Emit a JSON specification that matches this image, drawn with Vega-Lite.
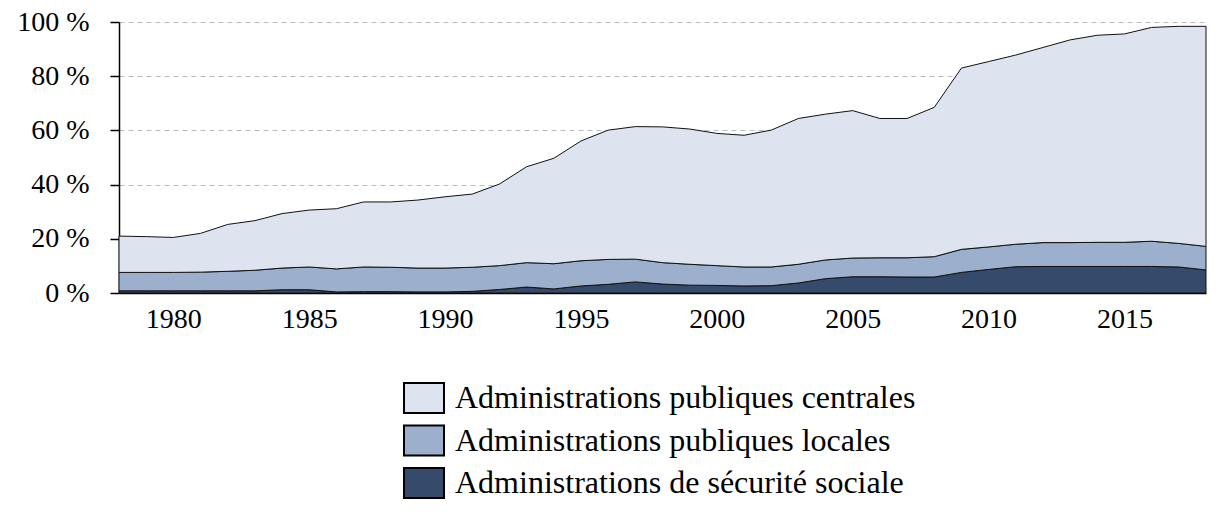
{
  "$schema": "https://vega.github.io/schema/vega-lite/v6.json",
  "width": 1087,
  "height": 271,
  "autosize": {"type": "none"},
  "padding": {"left": 119, "top": 22, "right": 14, "bottom": 228},
  "background": "white",
  "config": {
    "view": {"stroke": null},
    "font": "Liberation Serif"
  },
  "datasets": {
    "d": [
      {"annee":1978,"s":"Administrations de sécurité sociale","rang":1,"v":0.8},
      {"annee":1979,"s":"Administrations de sécurité sociale","rang":1,"v":0.8},
      {"annee":1980,"s":"Administrations de sécurité sociale","rang":1,"v":0.8},
      {"annee":1981,"s":"Administrations de sécurité sociale","rang":1,"v":0.8},
      {"annee":1982,"s":"Administrations de sécurité sociale","rang":1,"v":0.8},
      {"annee":1983,"s":"Administrations de sécurité sociale","rang":1,"v":0.8},
      {"annee":1984,"s":"Administrations de sécurité sociale","rang":1,"v":1.2},
      {"annee":1985,"s":"Administrations de sécurité sociale","rang":1,"v":1.2},
      {"annee":1986,"s":"Administrations de sécurité sociale","rang":1,"v":0.4},
      {"annee":1987,"s":"Administrations de sécurité sociale","rang":1,"v":0.5},
      {"annee":1988,"s":"Administrations de sécurité sociale","rang":1,"v":0.5},
      {"annee":1989,"s":"Administrations de sécurité sociale","rang":1,"v":0.4},
      {"annee":1990,"s":"Administrations de sécurité sociale","rang":1,"v":0.4},
      {"annee":1991,"s":"Administrations de sécurité sociale","rang":1,"v":0.6},
      {"annee":1992,"s":"Administrations de sécurité sociale","rang":1,"v":1.3},
      {"annee":1993,"s":"Administrations de sécurité sociale","rang":1,"v":2.2},
      {"annee":1994,"s":"Administrations de sécurité sociale","rang":1,"v":1.5},
      {"annee":1995,"s":"Administrations de sécurité sociale","rang":1,"v":2.6},
      {"annee":1996,"s":"Administrations de sécurité sociale","rang":1,"v":3.2},
      {"annee":1997,"s":"Administrations de sécurité sociale","rang":1,"v":4.1},
      {"annee":1998,"s":"Administrations de sécurité sociale","rang":1,"v":3.3},
      {"annee":1999,"s":"Administrations de sécurité sociale","rang":1,"v":2.9},
      {"annee":2000,"s":"Administrations de sécurité sociale","rang":1,"v":2.8},
      {"annee":2001,"s":"Administrations de sécurité sociale","rang":1,"v":2.6},
      {"annee":2002,"s":"Administrations de sécurité sociale","rang":1,"v":2.7},
      {"annee":2003,"s":"Administrations de sécurité sociale","rang":1,"v":3.7},
      {"annee":2004,"s":"Administrations de sécurité sociale","rang":1,"v":5.3},
      {"annee":2005,"s":"Administrations de sécurité sociale","rang":1,"v":6.0},
      {"annee":2006,"s":"Administrations de sécurité sociale","rang":1,"v":6.0},
      {"annee":2007,"s":"Administrations de sécurité sociale","rang":1,"v":5.9},
      {"annee":2008,"s":"Administrations de sécurité sociale","rang":1,"v":5.9},
      {"annee":2009,"s":"Administrations de sécurité sociale","rang":1,"v":7.6},
      {"annee":2010,"s":"Administrations de sécurité sociale","rang":1,"v":8.7},
      {"annee":2011,"s":"Administrations de sécurité sociale","rang":1,"v":9.7},
      {"annee":2012,"s":"Administrations de sécurité sociale","rang":1,"v":9.8},
      {"annee":2013,"s":"Administrations de sécurité sociale","rang":1,"v":9.8},
      {"annee":2014,"s":"Administrations de sécurité sociale","rang":1,"v":9.8},
      {"annee":2015,"s":"Administrations de sécurité sociale","rang":1,"v":9.8},
      {"annee":2016,"s":"Administrations de sécurité sociale","rang":1,"v":9.8},
      {"annee":2017,"s":"Administrations de sécurité sociale","rang":1,"v":9.6},
      {"annee":2018,"s":"Administrations de sécurité sociale","rang":1,"v":8.5},
      {"annee":1978,"s":"Administrations publiques locales","rang":2,"v":6.8},
      {"annee":1979,"s":"Administrations publiques locales","rang":2,"v":6.8},
      {"annee":1980,"s":"Administrations publiques locales","rang":2,"v":6.8},
      {"annee":1981,"s":"Administrations publiques locales","rang":2,"v":6.9},
      {"annee":1982,"s":"Administrations publiques locales","rang":2,"v":7.2},
      {"annee":1983,"s":"Administrations publiques locales","rang":2,"v":7.6},
      {"annee":1984,"s":"Administrations publiques locales","rang":2,"v":8.0},
      {"annee":1985,"s":"Administrations publiques locales","rang":2,"v":8.4},
      {"annee":1986,"s":"Administrations publiques locales","rang":2,"v":8.5},
      {"annee":1987,"s":"Administrations publiques locales","rang":2,"v":9.1},
      {"annee":1988,"s":"Administrations publiques locales","rang":2,"v":9.0},
      {"annee":1989,"s":"Administrations publiques locales","rang":2,"v":8.8},
      {"annee":1990,"s":"Administrations publiques locales","rang":2,"v":8.8},
      {"annee":1991,"s":"Administrations publiques locales","rang":2,"v":8.9},
      {"annee":1992,"s":"Administrations publiques locales","rang":2,"v":8.8},
      {"annee":1993,"s":"Administrations publiques locales","rang":2,"v":9.0},
      {"annee":1994,"s":"Administrations publiques locales","rang":2,"v":9.3},
      {"annee":1995,"s":"Administrations publiques locales","rang":2,"v":9.3},
      {"annee":1996,"s":"Administrations publiques locales","rang":2,"v":9.2},
      {"annee":1997,"s":"Administrations publiques locales","rang":2,"v":8.4},
      {"annee":1998,"s":"Administrations publiques locales","rang":2,"v":7.9},
      {"annee":1999,"s":"Administrations publiques locales","rang":2,"v":7.7},
      {"annee":2000,"s":"Administrations publiques locales","rang":2,"v":7.3},
      {"annee":2001,"s":"Administrations publiques locales","rang":2,"v":7.0},
      {"annee":2002,"s":"Administrations publiques locales","rang":2,"v":6.9},
      {"annee":2003,"s":"Administrations publiques locales","rang":2,"v":6.9},
      {"annee":2004,"s":"Administrations publiques locales","rang":2,"v":6.9},
      {"annee":2005,"s":"Administrations publiques locales","rang":2,"v":6.9},
      {"annee":2006,"s":"Administrations publiques locales","rang":2,"v":7.0},
      {"annee":2007,"s":"Administrations publiques locales","rang":2,"v":7.1},
      {"annee":2008,"s":"Administrations publiques locales","rang":2,"v":7.5},
      {"annee":2009,"s":"Administrations publiques locales","rang":2,"v":8.5},
      {"annee":2010,"s":"Administrations publiques locales","rang":2,"v":8.3},
      {"annee":2011,"s":"Administrations publiques locales","rang":2,"v":8.3},
      {"annee":2012,"s":"Administrations publiques locales","rang":2,"v":8.8},
      {"annee":2013,"s":"Administrations publiques locales","rang":2,"v":8.8},
      {"annee":2014,"s":"Administrations publiques locales","rang":2,"v":8.9},
      {"annee":2015,"s":"Administrations publiques locales","rang":2,"v":8.9},
      {"annee":2016,"s":"Administrations publiques locales","rang":2,"v":9.3},
      {"annee":2017,"s":"Administrations publiques locales","rang":2,"v":8.7},
      {"annee":2018,"s":"Administrations publiques locales","rang":2,"v":8.7},
      {"annee":1978,"s":"Administrations publiques centrales","rang":3,"v":13.4},
      {"annee":1979,"s":"Administrations publiques centrales","rang":3,"v":13.2},
      {"annee":1980,"s":"Administrations publiques centrales","rang":3,"v":12.9},
      {"annee":1981,"s":"Administrations publiques centrales","rang":3,"v":14.3},
      {"annee":1982,"s":"Administrations publiques centrales","rang":3,"v":17.3},
      {"annee":1983,"s":"Administrations publiques centrales","rang":3,"v":18.3},
      {"annee":1984,"s":"Administrations publiques centrales","rang":3,"v":20.1},
      {"annee":1985,"s":"Administrations publiques centrales","rang":3,"v":21.0},
      {"annee":1986,"s":"Administrations publiques centrales","rang":3,"v":22.2},
      {"annee":1987,"s":"Administrations publiques centrales","rang":3,"v":24.0},
      {"annee":1988,"s":"Administrations publiques centrales","rang":3,"v":24.1},
      {"annee":1989,"s":"Administrations publiques centrales","rang":3,"v":25.1},
      {"annee":1990,"s":"Administrations publiques centrales","rang":3,"v":26.3},
      {"annee":1991,"s":"Administrations publiques centrales","rang":3,"v":27.0},
      {"annee":1992,"s":"Administrations publiques centrales","rang":3,"v":30.1},
      {"annee":1993,"s":"Administrations publiques centrales","rang":3,"v":35.4},
      {"annee":1994,"s":"Administrations publiques centrales","rang":3,"v":38.9},
      {"annee":1995,"s":"Administrations publiques centrales","rang":3,"v":44.2},
      {"annee":1996,"s":"Administrations publiques centrales","rang":3,"v":47.7},
      {"annee":1997,"s":"Administrations publiques centrales","rang":3,"v":48.9},
      {"annee":1998,"s":"Administrations publiques centrales","rang":3,"v":50.1},
      {"annee":1999,"s":"Administrations publiques centrales","rang":3,"v":49.9},
      {"annee":2000,"s":"Administrations publiques centrales","rang":3,"v":48.8},
      {"annee":2001,"s":"Administrations publiques centrales","rang":3,"v":48.6},
      {"annee":2002,"s":"Administrations publiques centrales","rang":3,"v":50.5},
      {"annee":2003,"s":"Administrations publiques centrales","rang":3,"v":53.8},
      {"annee":2004,"s":"Administrations publiques centrales","rang":3,"v":53.8},
      {"annee":2005,"s":"Administrations publiques centrales","rang":3,"v":54.4},
      {"annee":2006,"s":"Administrations publiques centrales","rang":3,"v":51.4},
      {"annee":2007,"s":"Administrations publiques centrales","rang":3,"v":51.4},
      {"annee":2008,"s":"Administrations publiques centrales","rang":3,"v":55.1},
      {"annee":2009,"s":"Administrations publiques centrales","rang":3,"v":66.9},
      {"annee":2010,"s":"Administrations publiques centrales","rang":3,"v":68.4},
      {"annee":2011,"s":"Administrations publiques centrales","rang":3,"v":69.8},
      {"annee":2012,"s":"Administrations publiques centrales","rang":3,"v":72.0},
      {"annee":2013,"s":"Administrations publiques centrales","rang":3,"v":74.8},
      {"annee":2014,"s":"Administrations publiques centrales","rang":3,"v":76.4},
      {"annee":2015,"s":"Administrations publiques centrales","rang":3,"v":76.9},
      {"annee":2016,"s":"Administrations publiques centrales","rang":3,"v":78.9},
      {"annee":2017,"s":"Administrations publiques centrales","rang":3,"v":80.1},
      {"annee":2018,"s":"Administrations publiques centrales","rang":3,"v":81.2}
    ]
  },
  "data": {"name": "d"},
  "mark": {"type": "area", "stroke": "#111111", "strokeWidth": 1, "interpolate": "linear"},
  "encoding": {
    "x": {
      "field": "annee",
      "type": "quantitative",
      "scale": {"domain": [1978, 2018], "nice": false, "zero": false},
      "axis": {
        "title": null,
        "values": [1980, 1985, 1990, 1995, 2000, 2005, 2010, 2015],
        "format": "d",
        "grid": false,
        "ticks": false,
        "domain": true,
        "domainColor": "#000000",
        "domainWidth": 1.5,
        "labelFont": "Liberation Serif",
        "labelFontSize": 28,
        "labelColor": "#000000",
        "labelPadding": 12
      }
    },
    "y": {
      "field": "v",
      "type": "quantitative",
      "stack": "zero",
      "scale": {"domain": [0, 100], "nice": false},
      "axis": {
        "title": null,
        "values": [0, 20, 40, 60, 80, 100],
        "labelExpr": "datum.value + ' %'",
        "grid": true,
        "gridDash": [5, 4],
        "gridColor": "#bbbbbb",
        "gridWidth": 1,
        "ticks": true,
        "tickSize": 9,
        "tickColor": "#000000",
        "tickWidth": 1.5,
        "domain": true,
        "domainColor": "#000000",
        "domainWidth": 1.5,
        "labelFont": "Liberation Serif",
        "labelFontSize": 28,
        "labelColor": "#000000",
        "labelPadding": 21
      }
    },
    "color": {
      "field": "s",
      "type": "nominal",
      "scale": {
        "domain": ["Administrations publiques centrales", "Administrations publiques locales", "Administrations de sécurité sociale"],
        "range": ["#dee4ef", "#9cafcc", "#364b6b"]
      },
      "legend": {
        "title": null,
        "orient": "none",
        "legendX": 284,
        "legendY": 355,
        "direction": "vertical",
        "symbolType": "M-1,-0.75H1V0.75H-1Z",
        "symbolSize": 1600,
        "symbolStrokeColor": "#000000",
        "symbolStrokeWidth": 2,
        "symbolOpacity": 1,
        "labelFont": "Liberation Serif",
        "labelFontSize": 32,
        "labelColor": "#000000",
        "labelOffset": 10,
        "labelLimit": 0,
        "rowPadding": 2.5
      }
    },
    "order": {"field": "rang", "type": "quantitative"}
  }
}
